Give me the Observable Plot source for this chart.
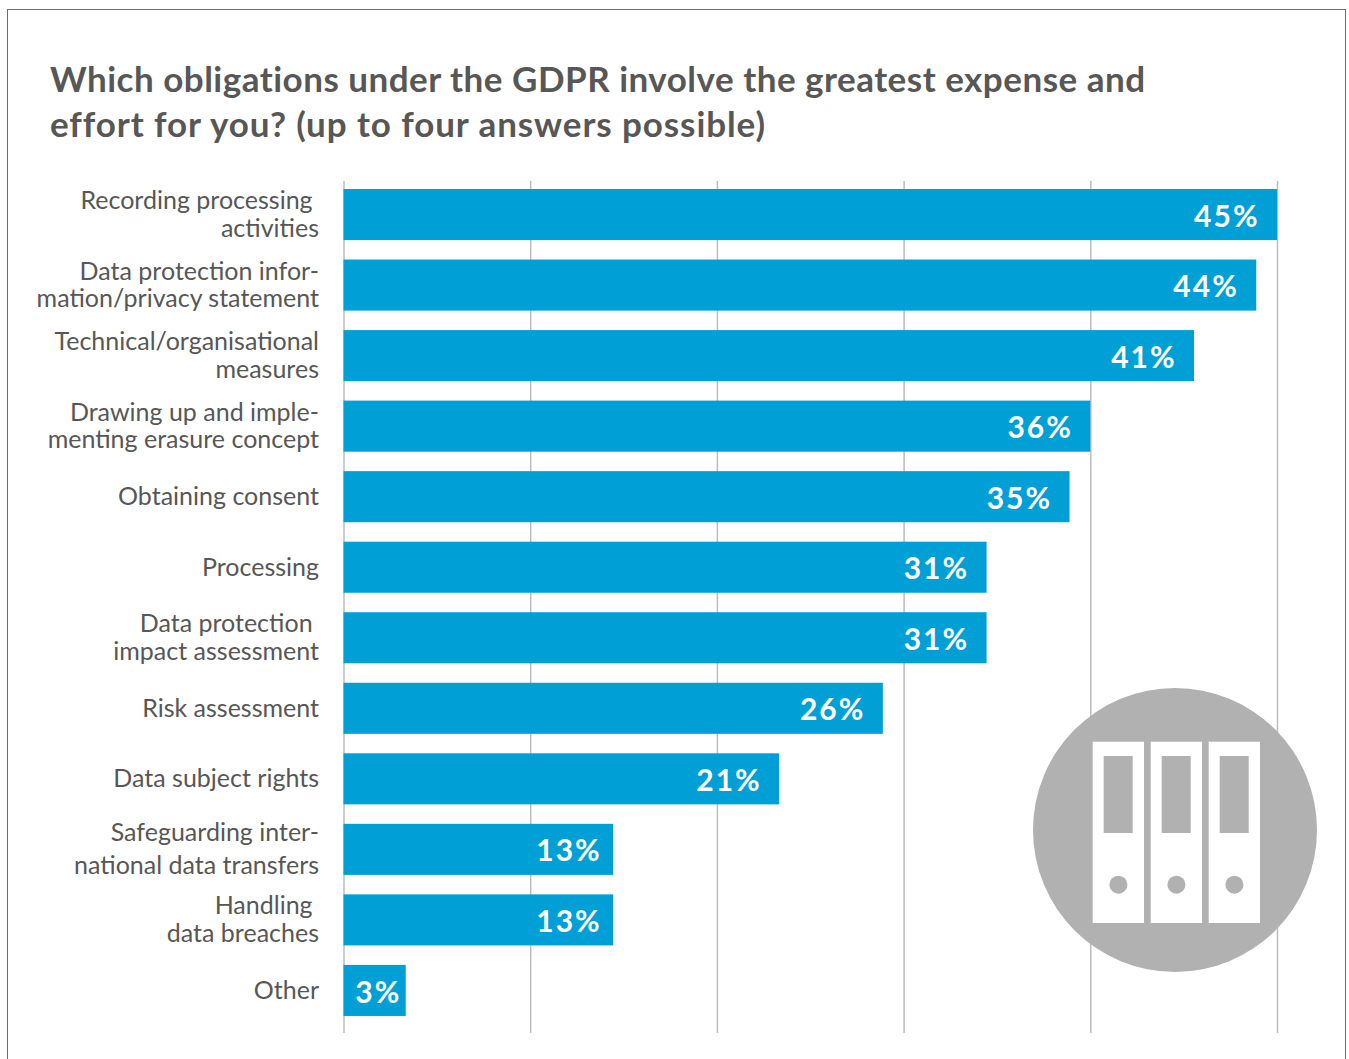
<!DOCTYPE html>
<html>
<head>
<meta charset="utf-8">
<script src="https://cdn.jsdelivr.net/npm/d3@7"></script>
<script src="https://cdn.jsdelivr.net/npm/@observablehq/plot@0.6"></script>
<style>
  html, body { margin: 0; padding: 0; background: #fff; }
  #page { position: relative; width: 1349px; height: 1059px; overflow: hidden; }
  #frame { position: absolute; left: 7px; top: 9px; width: 1336.5px; height: 1060px; border: 1px solid #6b6b6b; box-sizing: content-box; }
  h1 {
    position: absolute; left: 50px; top: 55.5px; margin: 0; width: 1200px;
    font: 700 35px/45px Lato, sans-serif; color: #575756;
  }
  h1 .first { letter-spacing: 0.49px; }
  h1 .second { letter-spacing: 0.91px; }
  #chart { position: absolute; left: 0; top: 0; }
  #icon { position: absolute; left: 0; top: 0; }
  .bar-value { letter-spacing: 2px; }
</style>
</head>
<body>
<div id="page">
  <div id="frame"></div>
  <div id="chart"></div>
  <svg id="icon" width="1349" height="1059" aria-hidden="true">
    <circle cx="1175" cy="830" r="142" fill="#b1b1b1"/>
    <g id="binders"></g>
  </svg>
  <h1><span class="first">Which obligations under the GDPR involve the greatest expense and</span><br><span class="second">effort for you? (up to four answers possible)</span></h1>
</div>
<script>
const labels = [
  "Recording processing\u00A0\nactivities",
  "Data protection infor-\nmation/privacy statement",
  "Technical/organisational\nmeasures",
  "Drawing up and imple-\nmenting erasure concept",
  "Obtaining consent",
  "Processing",
  "Data protection\u00A0\nimpact assessment",
  "Risk assessment",
  "Data subject rights",
  "Safeguarding inter-\nnational data transfers",
  "Handling\u00A0\ndata breaches",
  "Other"
];
const values = [45, 44, 41, 36, 35, 31, 31, 26, 21, 13, 13, 3];
const gridTicks = [0, 9, 18, 27, 36, 45];
const rows = labels.map((label, i) => ({label, value: values[i]}));

const barColor = "#009fd6";
const gridColor = "#bcbcbc";
const inkColor = "#575756";

const valueText = (subset, dx) => Plot.text(subset, {
  x: "value", y: "label", text: d => `${d.value}%`,
  textAnchor: "end", dx, dy: 2,
  fill: "#fff", fontSize: 30, fontWeight: 700,
  fontFamily: "Lato, sans-serif",
  className: "bar-value"
});

const labelText = (subset, lineHeight, dy) => Plot.text(subset, {
  x: 0, y: "label", text: "label",
  textAnchor: "end", dx: -25, dy, lineHeight,
  fill: inkColor, fontSize: 25, fontWeight: 400,
  fontFamily: "Lato, sans-serif"
});

const isWideSet = d => d.label.startsWith("Safeguarding");

const chart = Plot.plot({
  width: 1349,
  height: 1059,
  marginLeft: 343.5,
  marginRight: 72,
  marginTop: 181,
  marginBottom: 26,
  style: {background: "transparent", overflow: "visible"},
  x: {domain: [0, 45], axis: null},
  y: {domain: labels, padding: 0.276, paddingOuter: 0.1775, align: 0.32, round: false, axis: null},
  marks: [
    Plot.ruleX(gridTicks, {stroke: gridColor, strokeWidth: 1.5}),
    Plot.barX(rows, {x: "value", y: "label", fill: barColor}),
    valueText(rows.filter(d => d.value > 13), -18),
    valueText(rows.filter(d => d.value === 13), -12),
    valueText(rows.filter(d => d.value < 13), -5),
    labelText(rows.filter(d => !isWideSet(d)), 1.1, -1),
    labelText(rows.filter(isWideSet), 1.3, -3)
  ]
});
document.getElementById("chart").append(chart);

// Ring-binder pictogram inside the grey disc
const binders = d3.select("#binders");
for (const x0 of [1092.7, 1150.7, 1208.7]) {
  binders.append("rect").attr("x", x0).attr("y", 741.7).attr("width", 51.3).attr("height", 181.3).attr("fill", "#fff");
  binders.append("rect").attr("x", x0 + 11).attr("y", 756).attr("width", 29).attr("height", 77).attr("fill", "#b1b1b1");
  binders.append("circle").attr("cx", x0 + 25.7).attr("cy", 884.7).attr("r", 9).attr("fill", "#b1b1b1");
}
</script>
</body>
</html>
